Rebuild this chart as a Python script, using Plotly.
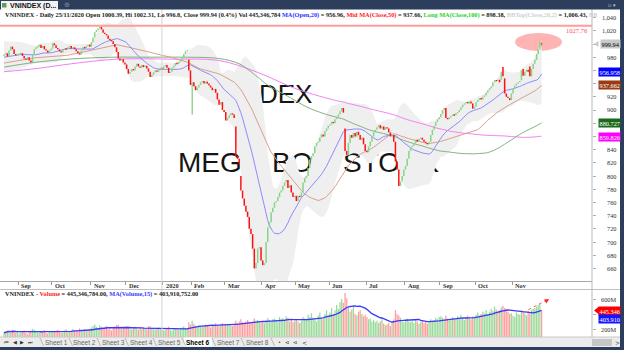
import numpy as np
import pandas as pd
import plotly.graph_objects as go

W, H = 624, 350

# ---------------- data ----------------
# daily opens / closes per month (index points)
open_2019_08 = [982, 984, 986, 981, 990, 996, 992, 985, 983]
close_2019_08 = [984, 986, 981, 990, 996, 992, 985, 983, 984]
open_2019_09 = [984, 985, 986, 982, 978, 976, 980, 975, 972, 984, 992, 995, 996, 999, 994, 997, 992, 990, 987, 990]
close_2019_09 = [985, 986, 982, 978, 976, 980, 975, 972, 984, 992, 995, 996, 999, 994, 997, 992, 990, 987, 990, 993]
open_2019_10 = [993, 1001, 998, 994, 992, 989, 987, 991, 993, 992, 995, 997, 993, 995, 992, 989, 986, 984, 990, 995, 994, 997, 999]
close_2019_10 = [1001, 998, 994, 992, 989, 987, 991, 993, 992, 995, 997, 993, 995, 992, 989, 986, 984, 990, 995, 994, 997, 999, 996]
open_2019_11 = [996, 1003, 1010, 1018, 1021, 1024, 1026, 1022, 1017, 1015, 1013, 1008, 1006, 1004, 1000, 995, 988, 978, 975, 977, 972]
close_2019_11 = [1003, 1010, 1018, 1021, 1024, 1026, 1022, 1017, 1015, 1013, 1008, 1006, 1004, 1000, 995, 988, 978, 975, 977, 972, 969]
open_2019_12 = [969, 962, 955, 958, 962, 960, 966, 970, 966, 964, 968, 965, 967, 963, 958, 950, 953, 957, 960, 958, 962, 964]
close_2019_12 = [962, 955, 958, 962, 960, 966, 970, 966, 964, 968, 965, 967, 963, 958, 950, 953, 957, 960, 958, 962, 964, 961]
open_2020_01 = [961, 966, 968, 964, 956, 958, 964, 967, 971, 970, 973, 976, 980, 985, 989, 976, 960]
close_2020_01 = [966, 968, 964, 956, 958, 964, 967, 971, 970, 973, 976, 980, 985, 989, 991, 960, 938]
open_2020_02 = [934, 942, 936, 930, 934, 938, 942, 944, 940, 943, 940, 937, 934, 930, 932, 926, 916, 908, 912, 900]
close_2020_02 = [942, 936, 930, 934, 938, 942, 944, 940, 943, 940, 937, 934, 930, 932, 926, 916, 908, 912, 900, 897]
open_2020_03 = [897, 884, 888, 892, 895, 893, 875, 830, 826, 800, 778, 766, 755, 746, 738, 720, 712, 690, 660, 668, 690, 692]
close_2020_03 = [884, 888, 892, 895, 893, 888, 830, 826, 818, 778, 766, 755, 746, 738, 720, 712, 690, 660, 668, 690, 692, 672]
open_2020_04 = [672, 665, 668, 700, 722, 730, 745, 752, 760, 762, 768, 775, 778, 785, 790, 794, 782, 786, 775, 768]
close_2020_04 = [665, 668, 700, 722, 730, 745, 752, 760, 762, 768, 775, 778, 785, 790, 794, 782, 786, 775, 768, 770]
open_2020_05 = [770, 762, 770, 768, 775, 790, 797, 800, 812, 825, 830, 835, 845, 850, 852, 858, 863, 860, 868, 872]
close_2020_05 = [762, 770, 768, 775, 790, 797, 800, 812, 825, 830, 835, 845, 850, 852, 858, 863, 860, 868, 872, 876]
open_2020_06 = [876, 878, 882, 880, 886, 889, 893, 898, 903, 872, 838, 832, 850, 862, 858, 865, 860, 867, 862, 855, 858, 848]
close_2020_06 = [878, 882, 880, 886, 889, 893, 898, 903, 896, 838, 832, 850, 862, 858, 865, 860, 867, 862, 855, 858, 848, 838]
open_2020_07 = [838, 836, 845, 852, 860, 866, 870, 874, 877, 872, 875, 870, 874, 872, 866, 860, 862, 852, 822, 810, 785, 792, 800]
close_2020_07 = [836, 845, 852, 860, 866, 870, 874, 877, 872, 875, 870, 874, 872, 866, 860, 862, 852, 822, 810, 785, 792, 800, 810]
open_2020_08 = [810, 815, 826, 838, 844, 846, 850, 855, 852, 856, 858, 855, 852, 850, 848, 852, 862, 870, 876, 882, 886]
close_2020_08 = [815, 826, 838, 844, 846, 850, 855, 852, 856, 858, 855, 852, 850, 848, 852, 862, 870, 876, 882, 886, 889]
open_2020_09 = [889, 894, 900, 903, 888, 886, 889, 891, 893, 892, 895, 897, 900, 904, 908, 910, 912, 910, 913, 910, 902]
close_2020_09 = [894, 900, 903, 888, 886, 889, 891, 893, 892, 895, 897, 900, 904, 908, 910, 912, 910, 913, 910, 902, 905]
open_2020_10 = [905, 912, 915, 918, 916, 920, 922, 926, 930, 933, 936, 942, 945, 944, 946, 946, 965, 948, 925, 920, 918, 915]
close_2020_10 = [912, 915, 918, 916, 920, 922, 926, 930, 933, 936, 942, 945, 944, 946, 942, 958, 951, 925, 920, 918, 915, 925]
open_2020_11 = [925, 932, 937, 940, 942, 945, 962, 952, 958, 961, 966, 951, 962, 970, 976, 985, 992, 1000.39]
close_2020_11 = [932, 937, 940, 942, 944, 960, 952, 958, 961, 958, 951, 962, 970, 976, 985, 992, 1003, 999.94]

# daily volume per month (millions of shares)
vol_2019_08 = [150, 165, 180, 175, 160, 190, 170, 145, 160]
vol_2019_09 = [140, 155, 170, 180, 150, 135, 160, 175, 200, 190, 165, 150, 145, 170, 160, 185, 150, 140, 165, 155]
vol_2019_10 = [170, 160, 175, 190, 165, 150, 155, 180, 195, 170, 160, 175, 200, 185, 165, 170, 210, 180, 190, 200, 175, 185, 195]
vol_2019_11 = [220, 240, 260, 230, 210, 250, 230, 200, 215, 240, 195, 205, 180, 210, 230, 250, 260, 220, 200, 215, 230]
vol_2019_12 = [240, 220, 200, 190, 210, 230, 205, 190, 215, 200, 225, 210, 195, 235, 240, 215, 200, 190, 205, 220, 210, 195]
vol_2020_01 = [180, 190, 205, 230, 185, 175, 195, 200, 210, 190, 205, 220, 235, 215, 200, 290, 260]
vol_2020_02 = [310, 270, 245, 230, 250, 240, 225, 235, 260, 245, 230, 220, 240, 260, 275, 250, 235, 265, 280, 260]
vol_2020_03 = [270, 250, 265, 245, 240, 255, 310, 280, 300, 330, 290, 270, 300, 320, 295, 280, 300, 340, 310, 320, 295, 285]
vol_2020_04 = [290, 275, 310, 345, 320, 300, 330, 340, 310, 290, 360, 330, 345, 320, 370, 350, 300, 330, 290, 310]
vol_2020_05 = [320, 300, 280, 310, 360, 340, 330, 390, 360, 410, 350, 330, 300, 380, 420, 350, 330, 400, 450, 380]
vol_2020_06 = [420, 480, 400, 450, 520, 470, 560, 600, 550, 680, 610, 500, 430, 460, 520, 400, 380, 430, 450, 400, 370, 390]
vol_2020_07 = [360, 330, 340, 300, 320, 290, 310, 280, 300, 330, 270, 250, 260, 280, 240, 300, 330, 450, 400, 380, 350, 300, 290]
vol_2020_08 = [320, 340, 300, 290, 310, 280, 320, 300, 270, 290, 310, 280, 300, 270, 290, 330, 310, 320, 350, 330, 360]
vol_2020_09 = [370, 350, 330, 380, 340, 310, 320, 360, 340, 330, 370, 350, 390, 340, 320, 360, 380, 350, 330, 370, 360]
vol_2020_10 = [390, 420, 380, 400, 430, 410, 450, 400, 430, 470, 440, 500, 460, 420, 450, 490, 510, 480, 460, 430, 400, 410]
vol_2020_11 = [380, 360, 420, 400, 390, 450, 430, 410, 380, 440, 420, 460, 470, 480, 500, 520, 540, 445.35]

# labels for months 2..16 (first, partial August is unlabeled)
month_tick_labels = ["Sep", "Oct", "Nov", "Dec", "2020", "Feb", "Mar", "Apr", "May",
                     "Jun", "Jul", "Aug", "Sep", "Oct", "Nov"]

# explicit long shadows (bar index, price)
wick_lows = [(112, 893), (320, 996.8)]
wick_highs = [(320, 1002.31)]

# moving-average values at the left edge (before the window is full)
ma20_head = ([0, 10], [980, 984])
ma50_head = ([0, 18, 38], [971, 979, 983])
ma150_head = ([0, 18, 38, 65, 87, 109, 128, 140], [965, 972, 977, 980, 980, 980, 978, 970])
ma200_head = ([0, 20, 40, 67, 100, 128, 150, 175], [958, 963, 970, 977, 977, 975, 958, 931])
bb_head = ([0, 10], [1004, 1003], [957, 963])

# price-axis ticks and value tags
price_ticks = [1040, 1020, 980, 920, 900, 840, 820, 800, 780, 760, 740, 720, 700, 680, 660]
value_tags = [("999.94", 999.94, "#c9c9c9", "#000000"),
              ("956.958", 956.958, "#0000ff", "#ffffff"),
              ("937.662", 937.662, "#9a3b12", "#ffffff"),
              ("880.727", 880.727, "#1b6a1b", "#ffffff"),
              ("859.826", 859.826, "#ff00ff", "#ffffff")]
resistance_level = 1027.76
volume_ticks = [600, 200]

# ---------------- assemble ----------------
open_months = [open_2019_08, open_2019_09, open_2019_10, open_2019_11, open_2019_12, open_2020_01,
               open_2020_02, open_2020_03, open_2020_04, open_2020_05, open_2020_06, open_2020_07,
               open_2020_08, open_2020_09, open_2020_10, open_2020_11]
close_months = [close_2019_08, close_2019_09, close_2019_10, close_2019_11, close_2019_12, close_2020_01,
                close_2020_02, close_2020_03, close_2020_04, close_2020_05, close_2020_06, close_2020_07,
                close_2020_08, close_2020_09, close_2020_10, close_2020_11]
vol_months = [vol_2019_08, vol_2019_09, vol_2019_10, vol_2019_11, vol_2019_12, vol_2020_01,
              vol_2020_02, vol_2020_03, vol_2020_04, vol_2020_05, vol_2020_06, vol_2020_07,
              vol_2020_08, vol_2020_09, vol_2020_10, vol_2020_11]

opens = np.array(sum(open_months, []), float)
closes = np.array(sum(close_months, []), float)
vols = np.array(sum(vol_months, []), float)
n = len(closes)
idx = np.arange(n)
month_start = np.cumsum([0] + [len(m) for m in close_months[:-1]])

s_open, s_close = pd.Series(opens), pd.Series(closes)


def with_head(head, series, win):
    hx, hy = head
    return list(hx) + list(idx[win - 1:]), list(hy) + list(series.values[win - 1:])


ma20_x, ma20_y = with_head(ma20_head, s_open.rolling(20).mean(), 20)
ma50_x, ma50_y = with_head(ma50_head, s_close.rolling(50).mean(), 50)
ma150_x, ma150_y = with_head(ma150_head, s_close.rolling(150).mean(), 150)
ma200_x, ma200_y = with_head(ma200_head, s_close.rolling(200).mean(), 200)
mid = s_close.rolling(20).mean()
sd = s_close.rolling(20).std(ddof=0)
bb_x = list(bb_head[0]) + list(idx[19:])
bb_up = list(bb_head[1]) + list((mid + 2 * sd).values[19:])
bb_lo = list(bb_head[2]) + list((mid - 2 * sd).values[19:])
vma = pd.Series(vols).rolling(15, min_periods=1).mean()

# ---------------- pixel geometry ----------------
X0_PX, DX_PX = 4.0, 1.68


def ix(px):
    return (px - X0_PX) / DX_PX


def price_at(py):
    return 1000 - (py - 44) / 0.66


def vol_at(py):
    return 200 + (329 - py) * 400 / 30


def pxp(x):
    return x / W


def pyp(y):
    return 1 - y / H


SERIF = "Liberation Serif"
SANS = "Liberation Sans"

fig = go.Figure()

# watermark (under the band)
fig.add_trace(go.Scatter(x=[ix(259), ix(178), ix(272), ix(343)],
                         y=[price_at(96), price_at(165), price_at(165), price_at(165)],
                         mode="text", text=["DEX", "MEGA", "BO", "STOCK"],
                         textposition="middle right",
                         textfont=dict(family=SANS, size=[26, 28, 28, 28], color="#151515"),
                         hoverinfo="skip"))

# Bollinger band fill
fig.add_trace(go.Scatter(x=bb_x, y=bb_lo, mode="lines", line=dict(width=0, color="#efefef"), hoverinfo="skip"))
fig.add_trace(go.Scatter(x=bb_x, y=bb_up, mode="lines", line=dict(width=0, color="#efefef"),
                         fill="tonexty", fillcolor="#efefef", hoverinfo="skip"))

# moving averages
fig.add_trace(go.Scatter(x=ma200_x, y=ma200_y, mode="lines", line=dict(color="#f27ff2", width=1, shape="spline")))
fig.add_trace(go.Scatter(x=ma150_x, y=ma150_y, mode="lines", line=dict(color="#7fb07f", width=1, shape="spline")))
fig.add_trace(go.Scatter(x=ma50_x, y=ma50_y, mode="lines", line=dict(color="#d9a08c", width=1)))
fig.add_trace(go.Scatter(x=ma20_x, y=ma20_y, mode="lines", line=dict(color="#8c8cff", width=1)))


def segments(xs, a, b):
    X, Y = [], []
    for x, p, q in zip(xs, a, b):
        X += [x, x, None]
        Y += [p, q, None]
    return X, Y


# candles
body_lo = np.minimum(opens, closes)
body_hi = np.maximum(opens, closes)
flat = (body_hi - body_lo) < 1.2
body_lo = np.where(flat, body_lo - 0.6, body_lo)
body_hi = np.where(flat, body_hi + 0.6, body_hi)
up = closes >= opens

wx, wy = [], []
for i, v in wick_lows:
    wx += [i, i, None]
    wy += [v, body_lo[i], None]
for i, v in wick_highs:
    wx += [i, i, None]
    wy += [body_hi[i], v, None]
fig.add_trace(go.Scatter(x=wx, y=wy, mode="lines", line=dict(color="#60c060", width=1), hoverinfo="skip"))

ux, uy = segments(idx[up], body_lo[up], body_hi[up])
dx, dy = segments(idx[~up], body_lo[~up], body_hi[~up])
fig.add_trace(go.Scatter(x=ux, y=uy, mode="lines", line=dict(color="#86d486", width=1.5), hoverinfo="skip"))
fig.add_trace(go.Scatter(x=dx, y=dy, mode="lines", line=dict(color="#ff1010", width=1.5), hoverinfo="skip"))

# volume
vcol = np.where(up, "rgba(120,205,120,0.75)", "rgba(255,125,125,0.75)")
fig.add_trace(go.Bar(x=idx, y=vols, marker=dict(color=list(vcol), line=dict(width=0)), width=0.75,
                     xaxis="x2", yaxis="y2", hoverinfo="skip"))
fig.add_trace(go.Scatter(x=idx, y=vma, mode="lines", line=dict(color="#3a3aff", width=1.3),
                         xaxis="x2", yaxis="y2", hoverinfo="skip"))

xr = [ix(0), ix(592)]
fig.update_layout(
    width=W, height=H, margin=dict(l=0, r=0, t=0, b=0),
    paper_bgcolor="white", plot_bgcolor="white", showlegend=False, hovermode=False,
    xaxis=dict(domain=[0, 592 / W], range=xr, anchor="y", showticklabels=False, showgrid=False,
               zeroline=False, tickvals=list(month_start[1:] - 0.5), ticks="outside", ticklen=3,
               tickcolor="#9a9a9a", showline=True, linecolor="#a8a8a8", linewidth=1),
    yaxis=dict(domain=[pyp(281), pyp(9)], range=[price_at(281), price_at(9)], anchor="x", side="right",
               showticklabels=False, showgrid=False, zeroline=False, ticks="outside", ticklen=3,
               tickcolor="#b0b0b0", tickvals=list(range(660, 1060, 20))),
    xaxis2=dict(domain=[0, 592 / W], range=xr, anchor="y2", matches="x", showticklabels=False,
                showgrid=False, zeroline=False, showline=False),
    yaxis2=dict(domain=[pyp(337), pyp(290)], range=[vol_at(337), vol_at(290)], anchor="x2", side="right",
                showticklabels=False, showgrid=False, zeroline=False, ticks="outside", ticklen=3,
                tickcolor="#b0b0b0", tickvals=[200, 400, 600]),
)

shapes = []
annos = []


def rect(x0, y0, x1, y1, fill, line=None, layer="above"):
    shapes.append(dict(type="rect", xref="paper", yref="paper", x0=pxp(x0), x1=pxp(x1), y0=pyp(y1),
                       y1=pyp(y0), fillcolor=fill, line=dict(width=0 if line is None else 1,
                                                             color=line or fill), layer=layer))


def hline(x0, x1, y, color, width=1):
    shapes.append(dict(type="line", xref="paper", yref="paper", x0=pxp(x0), x1=pxp(x1), y0=pyp(y),
                       y1=pyp(y), line=dict(color=color, width=width)))


def vline(x, y0, y1, color, width=1):
    shapes.append(dict(type="line", xref="paper", yref="paper", x0=pxp(x), x1=pxp(x), y0=pyp(y0),
                       y1=pyp(y1), line=dict(color=color, width=width)))


def text(t, x, y, size=6.5, color="#000", anchor="left", family=SERIF, **kw):
    a = dict(text=t, xref="paper", yref="paper", x=pxp(x), y=pyp(y), xanchor=anchor, yanchor="middle",
             showarrow=False, font=dict(family=family, size=size, color=color))
    a.update(kw)
    annos.append(a)


# resistance line + ellipse
shapes.append(dict(type="line", xref="paper", yref="y", x0=0, x1=592 / W, y0=resistance_level,
                   y1=resistance_level, line=dict(color="#ff9c9c", width=2)))
shapes.append(dict(type="circle", xref="x", yref="paper", x0=ix(515), x1=ix(562), y0=pyp(51), y1=pyp(33),
                   fillcolor="#ffb4b4", line=dict(width=0), layer="below"))
annos.append(dict(text="1027.76", xref="paper", yref="paper", x=pxp(590), y=pyp(30), xanchor="right",
                  yanchor="middle", showarrow=False, font=dict(family=SERIF, size=6.5, color="#ff5050")))

# year divider
shapes.append(dict(type="line", xref="x", yref="paper", x0=month_start[5] - 1.0, x1=month_start[5] - 1.0,
                   y0=pyp(337), y1=pyp(9), line=dict(color="#d4d4d4", width=1)))

# frame lines
vline(592, 9, 337, "#b8b8b8")
hline(0, 620, 289.5, "#c0c0c0")

# title bar
rect(0, 0, 624, 9.5, "#2d3d5c")
rect(1, 1, 58, 10, "#f3f3f3")
rect(2, 3, 6.5, 7.5, "#5aa05a")
text("<b>VNINDEX (D...</b>", 8, 5.6, size=7, family=SANS, color="#111")
text("⊕", 62, 5, size=7, family="DejaVu Sans", color="#7a8aa8")
text("▫ ▾", 612, 4.5, size=5, family="DejaVu Sans", color="#c8d0e0", anchor="center")

# header
hdr = ("<b>VNINDEX - Daily 25/11/2020 Open 1000.39, Hi 1002.31, Lo 996.8, Close 999.94 (0.4%) Vol 445,346,784 "
       "<span style='color:#3030ff'>MA(Open,20)</span> = 956.96, <span style='color:#ff1a1a'>Mid MA(Close,50)</span>"
       " = 937.66, <span style='color:#1ed21e'>Long MA(Close,100)</span> = 898.38, "
       "<span style='color:#cfcfcf'>BBTop(Close,20,2)</span> = 1,006.43, <span style='color:#cfcfcf'>BB</span></b>")
text(hdr, 3, 15, size=6.3, color="#222")

# price tick labels
for v in price_ticks:
    annos.append(dict(text=f"{v:,}", xref="paper", yref="y", x=pxp(618), y=v, xanchor="right",
                      yanchor="middle", showarrow=False, font=dict(family=SERIF, size=6.3, color="#333")))
for t, v, bg, fg in value_tags:
    annos.append(dict(text=t, xref="paper", yref="y", x=pxp(621), y=v, xanchor="right", yanchor="middle",
                      showarrow=False, bgcolor=bg, borderpad=0.5,
                      font=dict(family=SERIF, size=6.3, color=fg)))
shapes.append(dict(type="path", xref="paper", yref="y",
                   path=f"M {pxp(594)} 999.94 L {pxp(598.5)} {999.94 + 4.5} L {pxp(598.5)} {999.94 - 4.5} Z",
                   fillcolor="#c9c9c9", line=dict(width=0)))

# date labels
for k, lab in enumerate(month_tick_labels, start=1):
    annos.append(dict(text=f"<b>{lab}</b>", xref="x", yref="paper", x=month_start[k] - 0.5, y=pyp(285.5),
                      xanchor="left", yanchor="middle", showarrow=False, xshift=1,
                      font=dict(family=SERIF, size=6.3, color="#333")))

# volume header and axis
vh = ("<b>VNINDEX - <span style='color:#ff2020'>Volume</span> = 445,346,784.00, "
      "<span style='color:#3a3aff'>MA(Volume,15)</span> = 403,910,752.00</b>")
text(vh, 3, 294, size=6.3, color="#222")
for v in volume_ticks:
    annos.append(dict(text=f"{v}M", xref="paper", yref="y2", x=pxp(618), y=v, xanchor="right",
                      yanchor="middle", showarrow=False, font=dict(family=SERIF, size=6.3, color="#333")))
text("445.346", 621, 310.5, size=6.3, color="#fff", anchor="right", bgcolor="#ff0000", borderpad=0.5)
text("403.910", 621, 318.5, size=6.3, color="#fff", anchor="right", bgcolor="#1515ff", borderpad=0.5)
shapes.append(dict(type="path", xref="paper", yref="paper",
                   path=f"M {pxp(594)} {pyp(310.5)} L {pxp(599)} {pyp(306.5)} L {pxp(599)} {pyp(314.5)} Z",
                   fillcolor="#ff0000", line=dict(width=0)))

# volume trend arrow
shapes.append(dict(type="line", xref="x2", yref="y2", x0=ix(523), x1=ix(546), y0=vol_at(312.5),
                   y1=vol_at(300.5), line=dict(color="#ff6060", width=1, dash="dot")))
shapes.append(dict(type="path", xref="paper", yref="paper",
                   path=f"M {pxp(549)} {pyp(299)} L {pxp(544)} {pyp(299.5)} L {pxp(546.5)} {pyp(303.5)} Z",
                   fillcolor="#ff2020", line=dict(width=0)))

# bottom sheet tabs
rect(0, 337, 620, 347, "#ececec")
hline(0, 620, 337, "#c8c8c8")
for k, x in enumerate([6, 14.5, 22.5, 30.5]):
    text(["⏮", "◀", "▶", "⏭"][k], x, 342, size=5, family="DejaVu Sans", color="#333", anchor="center")
tab_x = [56, 85, 113, 141, 169, 198, 228, 257]
rect(184, 337.5, 212, 346.5, "#ffffff")
for k, x in enumerate(tab_x):
    if k == 5:
        text("<b>Sheet 6</b>", x, 342, size=6.5, family=SANS, color="#000", anchor="center")
    else:
        text(f"Sheet {k + 1}", x, 342, size=6.5, family=SANS, color="#666", anchor="center")
    shapes.append(dict(type="line", xref="paper", yref="paper", x0=pxp(x - 16), x1=pxp(x - 12.5),
                       y0=pyp(338), y1=pyp(346), line=dict(color="#a8a8a8", width=0.8)))
shapes.append(dict(type="line", xref="paper", yref="paper", x0=pxp(271), x1=pxp(274.5),
                   y0=pyp(338), y1=pyp(346), line=dict(color="#a8a8a8", width=0.8)))
text("•", 279, 342, size=5, family="DejaVu Sans", color="#333", anchor="center")
text("⊲", 287, 342, size=5, family="DejaVu Sans", color="#333", anchor="center")
text("⊲", 295, 342, size=5, family="DejaVu Sans", color="#333", anchor="center")
text("<", 304, 342, size=6, family="DejaVu Sans", color="#333", anchor="center")
rect(592, 339, 612, 346, "#c6c6c6")
text(">", 617, 342, size=6, family="DejaVu Sans", color="#333", anchor="center")

# outer dark frame
rect(0, 347, 624, 350, "#2d3d5c")
rect(620, 0, 624, 350, "#2d3d5c")

fig.update_layout(shapes=shapes, annotations=annos)
fig.write_html("out.html")
